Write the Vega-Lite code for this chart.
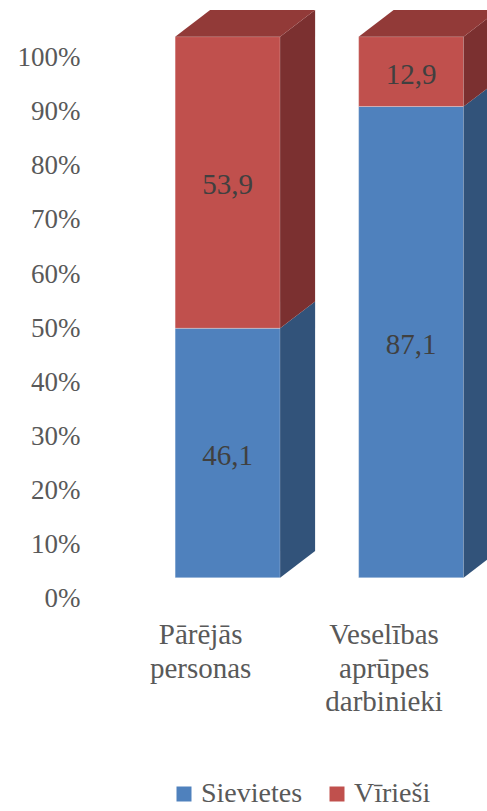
{
  "$schema": "https://vega.github.io/schema/vega-lite/v6.json",
  "width": 397,
  "height": 577.7,
  "autosize": {"type": "none"},
  "padding": {"left": 90, "top": 0, "right": 0, "bottom": 233.3},
  "config": {"view": {"stroke": null}, "font": "Liberation Serif"},
  "data": {
    "values": [
      {"category": "Pārējās personas", "gender": "Sievietes", "value": 46.1},
      {"category": "Pārējās personas", "gender": "Vīrieši", "value": 53.9},
      {"category": "Veselības aprūpes darbinieki", "gender": "Sievietes", "value": 87.1},
      {"category": "Veselības aprūpes darbinieki", "gender": "Vīrieši", "value": 12.9}
    ]
  },
  "transform": [
    {"calculate": "datum.gender === 'Sievietes' ? 0 : 1", "as": "order"},
    {"stack": "value", "groupby": ["category"], "sort": [{"field": "order"}], "as": ["lo", "hi"]},
    {"window": [{"op": "dense_rank", "as": "rank"}], "sort": [{"field": "category"}]},
    {"calculate": "datum.rank - 0.25", "as": "pos"},
    {"calculate": "datum.pos - 0.286", "as": "left"},
    {"calculate": "datum.pos + 0.286", "as": "right"},
    {"calculate": "(datum.lo + datum.hi) / 2", "as": "mid"},
    {"calculate": "replace(format(datum.value, '.1f'), '.', ',')", "as": "label"}
  ],
  "layer": [
    {
      "mark": {"type": "rect", "stroke": "#ffffff", "strokeOpacity": 0.35, "strokeWidth": 0.8},
      "encoding": {
        "x": {
          "field": "left", "type": "quantitative",
          "scale": {"domain": [0, 2.1635], "nice": false, "zero": false},
          "axis": {
            "values": [0.75, 1.75],
            "labelExpr": "datum.value < 1 ? ['Pārējās', 'personas'] : ['Veselības', 'aprūpes', 'darbinieki']",
            "domain": false, "ticks": false, "grid": false, "title": null,
            "labelFontSize": 29, "labelColor": "#595959", "labelPadding": 43,
            "labelOffset": -27.5, "labelLineHeight": 33.5, "labelFlush": false,
            "labelBaseline": "top", "labelOverlap": false, "labelFont": "Liberation Serif"
          }
        },
        "x2": {"field": "right"},
        "y": {
          "field": "lo", "type": "quantitative",
          "scale": {"domain": [0, 106.78], "nice": false, "zero": false},
          "axis": {
            "values": [0, 10, 20, 30, 40, 50, 60, 70, 80, 90, 100],
            "labelExpr": "datum.value + '%'",
            "domain": false, "ticks": false, "grid": false, "title": null,
            "labelFontSize": 27, "labelColor": "#595959", "labelPadding": 10,
            "labelOffset": 21, "labelFlush": false, "labelOverlap": false,
            "labelFont": "Liberation Serif"
          }
        },
        "y2": {"field": "hi"},
        "color": {
          "field": "gender", "type": "nominal",
          "scale": {"domain": ["Sievietes", "Vīrieši"], "range": ["#4F81BD", "#C0504D"]},
          "legend": {
            "orient": "none", "legendX": 80, "legendY": 780, "direction": "horizontal",
            "title": null, "symbolType": "square", "symbolSize": 225, "symbolStrokeWidth": 0,
            "labelFontSize": 28, "labelColor": "#595959", "labelOffset": 3, "columnPadding": 20,
            "labelFont": "Liberation Serif"
          }
        }
      }
    },
    {
      "transform": [
        {"calculate": "[0, 1]", "as": "k"},
        {"flatten": ["k"]},
        {"calculate": "datum.right + datum.k * 0.1907", "as": "sx"},
        {"calculate": "datum.lo + datum.k * 4.93", "as": "slo"},
        {"calculate": "datum.hi + datum.k * 4.93", "as": "shi"}
      ],
      "mark": {"type": "area", "orient": "vertical"},
      "encoding": {
        "x": {"field": "sx", "type": "quantitative"},
        "y": {"field": "slo", "type": "quantitative", "stack": null},
        "y2": {"field": "shi"},
        "detail": [{"field": "category"}, {"field": "gender"}],
        "fill": {"condition": {"test": "datum.gender === 'Vīrieši'", "value": "#7B3030"}, "value": "#32537A"}
      }
    },
    {
      "transform": [
        {"filter": "datum.hi > 99.9"},
        {"calculate": "[0, 1]", "as": "k"},
        {"flatten": ["k"]},
        {"calculate": "100 + datum.k * 4.93", "as": "ty"},
        {"calculate": "datum.left + datum.k * 0.1907", "as": "tl"},
        {"calculate": "datum.right + datum.k * 0.1907", "as": "tr"}
      ],
      "mark": {"type": "area", "orient": "horizontal"},
      "encoding": {
        "y": {"field": "ty", "type": "quantitative", "stack": null},
        "x": {"field": "tl", "type": "quantitative"},
        "x2": {"field": "tr"},
        "detail": [{"field": "category"}],
        "fill": {"condition": {"test": "datum.gender === 'Vīrieši'", "value": "#923A38"}, "value": "#3B6294"}
      }
    },
    {
      "mark": {"type": "text", "fontSize": 29, "color": "#404040", "font": "Liberation Serif", "baseline": "middle", "align": "center", "dy": 3},
      "encoding": {
        "x": {"field": "pos", "type": "quantitative"},
        "y": {"field": "mid", "type": "quantitative"},
        "text": {"field": "label"}
      }
    }
  ]
}
